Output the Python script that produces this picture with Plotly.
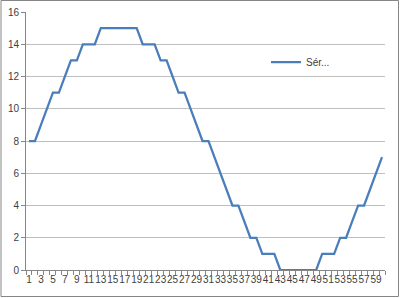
import plotly.graph_objects as go

categories = list(range(1, 61))
values = [8, 8, 9, 10, 11, 11, 12, 13, 13, 14, 14, 14, 15, 15, 15, 15, 15, 15, 15, 14,
          14, 14, 13, 13, 12, 11, 11, 10, 9, 8, 8, 7, 6, 5, 4, 4, 3, 2, 2, 1,
          1, 1, 0, 0, 0, 0, 0, 0, 0, 1, 1, 1, 2, 2, 3, 4, 4, 5, 6, 7]
series_name = "Sér..."
tick_labels = [str(c) for c in categories if c % 2 == 1]
tick_positions = [c for c in categories if c % 2 == 1]
y_ticks = [0, 2, 4, 6, 8, 10, 12, 14, 16]

fig = go.Figure()
fig.add_trace(go.Scatter(x=categories, y=values, mode="lines", name=series_name,
                         line=dict(color="#4a7ebb", width=2.25)))

W, H = 400, 298
ml, mr, mt, mb = 26, 15, 12, 28
pw, ph = W - ml - mr, H - mt - mb

fig.update_layout(
    width=W, height=H,
    margin=dict(l=ml, r=mr, t=mt, b=mb, autoexpand=False),
    paper_bgcolor="white", plot_bgcolor="white",
    font=dict(family="Liberation Sans, Arial, sans-serif", size=10, color="#404040"),
    showlegend=True,
    legend=dict(x=(266 - ml) / pw, y=(270 - 62) / ph, xanchor="left", yanchor="middle",
                bgcolor="rgba(0,0,0,0)", font=dict(size=10, color="#404040")),
    xaxis=dict(range=[0.5, 60.5], tickmode="array", tickvals=tick_positions, ticktext=tick_labels,
               ticks="", tickangle=0, automargin=False, showgrid=False, showline=True,
               linecolor="#868686", linewidth=1, zeroline=False, tickfont=dict(size=10),
               minor=dict(tickmode="array", tickvals=[c - 0.5 for c in categories] + [60.5],
                          ticks="outside", ticklen=4, tickcolor="#868686", showgrid=False)),
    yaxis=dict(range=[0, 16], tickvals=y_ticks, showgrid=True, gridcolor="#bfbfbf", gridwidth=1,
               automargin=False, showline=True, linecolor="#868686", linewidth=1, zeroline=False,
               ticks="outside", ticklen=4, tickcolor="#868686", tickfont=dict(size=10)),
    shapes=[dict(type="rect", xref="paper", yref="paper",
                 x0=(1 - ml) / pw, x1=(398.5 - ml) / pw,
                 y0=(270 - 296.5) / ph, y1=(270 - 0.5) / ph,
                 line=dict(color="#868686", width=1), fillcolor="rgba(0,0,0,0)", layer="below")],
)

fig.write_html("out.html")
